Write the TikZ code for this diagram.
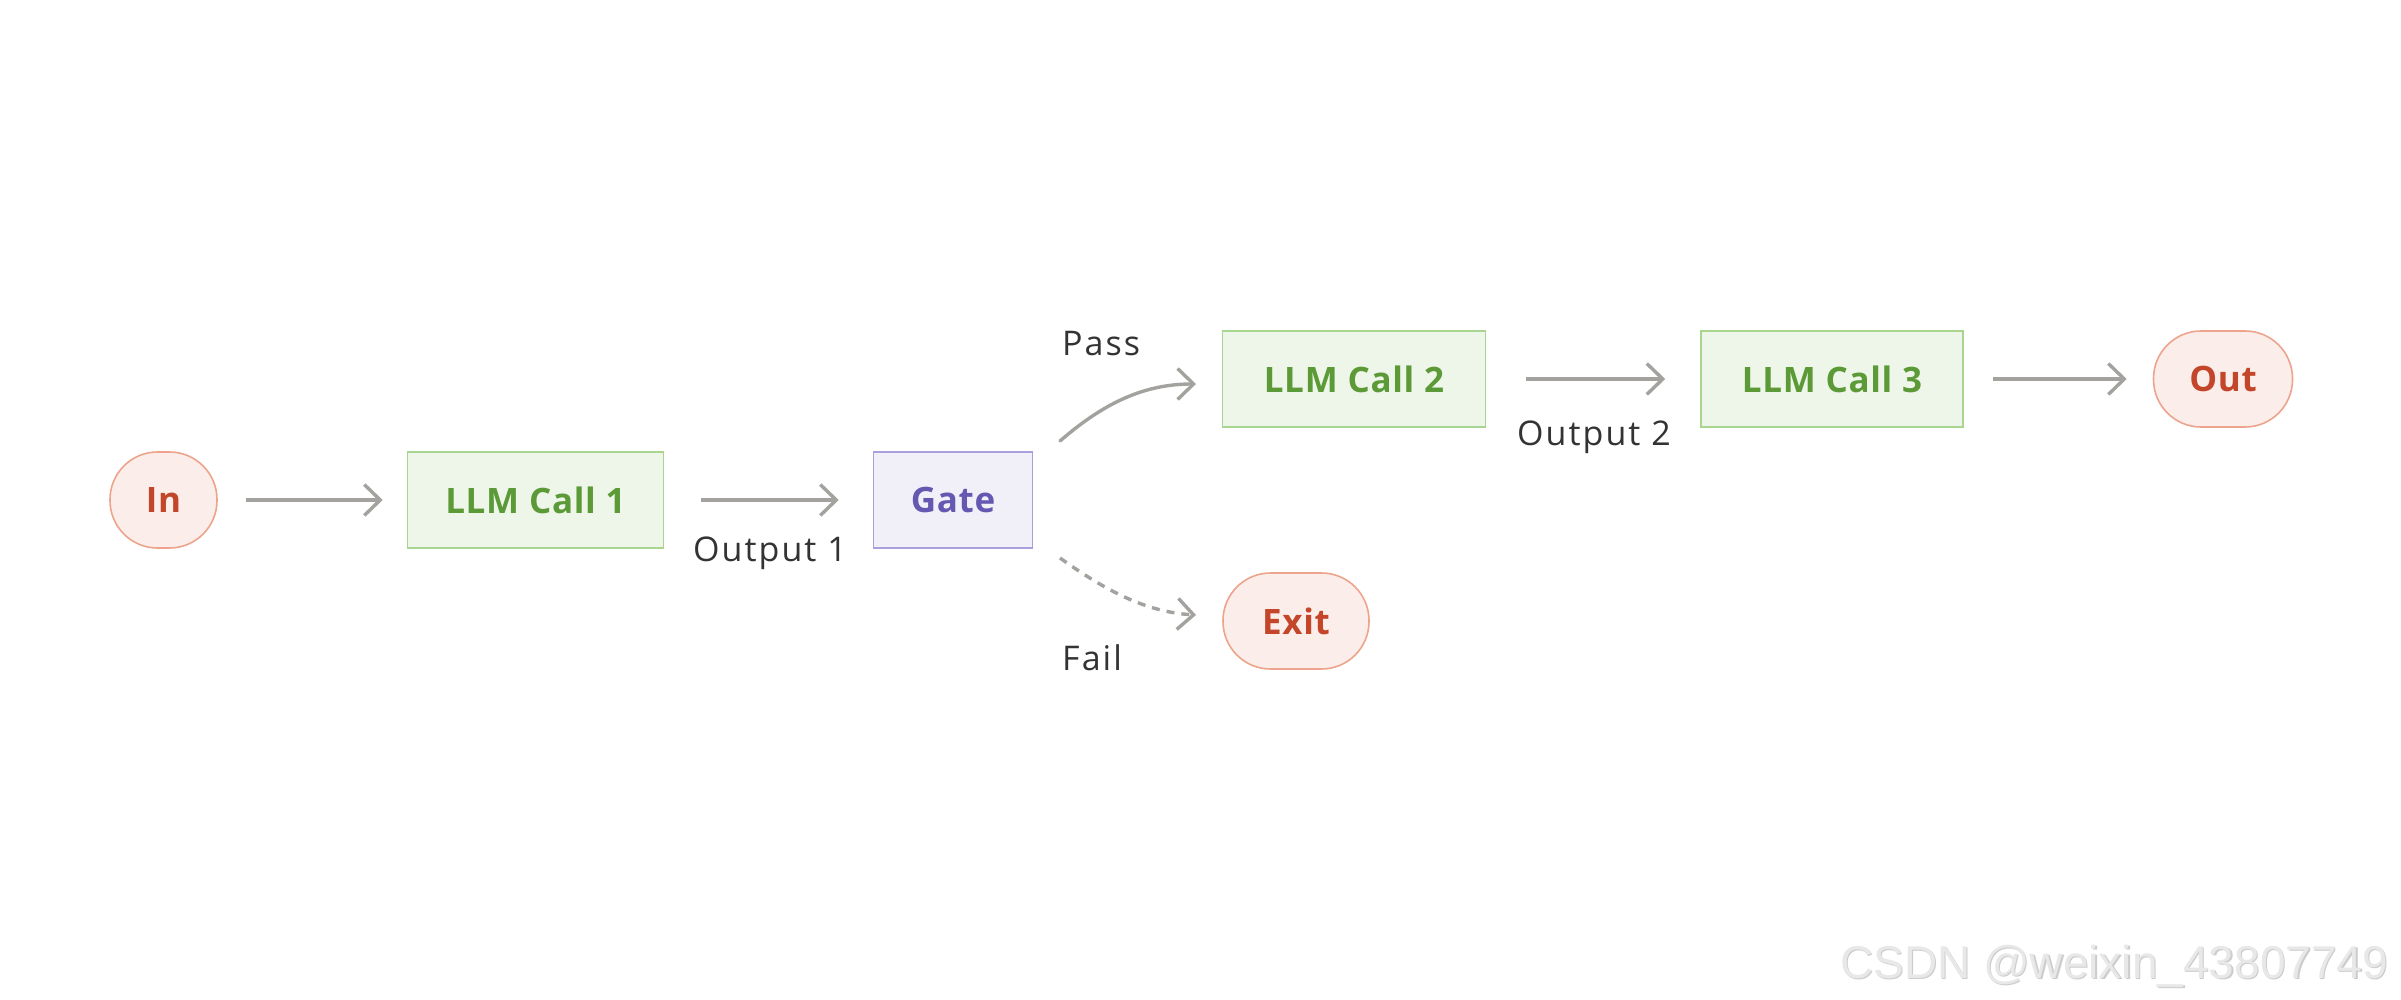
\documentclass[tikz,border=0pt]{standalone}
\usepackage{fontspec}
\setmainfont{Open Sans}
\newfontfamily\wmfont{Liberation Sans}
\usetikzlibrary{arrows.meta}
\definecolor{pillfill}{HTML}{FBEEEA}
\definecolor{pilldraw}{HTML}{EDA38C}
\definecolor{pilltext}{HTML}{C4462A}
\definecolor{llmfill}{HTML}{EEF5E9}
\definecolor{llmdraw}{HTML}{A8D58F}
\definecolor{llmtext}{HTML}{5B9A37}
\definecolor{gatefill}{HTML}{F1F0F9}
\definecolor{gatedraw}{HTML}{A99FDB}
\definecolor{gatetext}{HTML}{6558B1}
\definecolor{arrowgray}{HTML}{A3A29E}
\definecolor{labeltext}{HTML}{333333}
\tikzset{
  pill/.style={draw=pilldraw, fill=pillfill, text=pilltext, line width=1.6pt,
    rounded corners=47.5pt, minimum height=96pt, inner sep=0pt,
    font=\fontsize{35}{40}\selectfont\bfseries\addfontfeature{LetterSpace=2}},
  llmbox/.style={draw=llmdraw, fill=llmfill, text=llmtext, line width=1.6pt,
    minimum height=96pt, inner sep=0pt, font=\fontsize{35}{40}\selectfont\bfseries\addfontfeature{LetterSpace=2}},
  gatebox/.style={draw=gatedraw, fill=gatefill, text=gatetext, line width=1.6pt,
    minimum height=96pt, inner sep=0pt, font=\fontsize{35}{40}\selectfont\bfseries\addfontfeature{LetterSpace=2}},
  flow/.style={draw=arrowgray, line width=3.4pt,
    -{Straight Barb[length=16pt,width=31pt]}},
  lbl/.style={text=labeltext, inner sep=0pt, font=\fontsize{34}{38}\selectfont\addfontfeature{LetterSpace=6}},
}
\begin{document}
\begin{tikzpicture}[x=1pt,y=-1pt]
\useasboundingbox (0,0) rectangle (2401,1000);
\fill[white] (0,0) rectangle (2401,1000);

\node[pill, minimum width=107pt] (in) at (163.5,500) {In};
\node[llmbox, minimum width=256pt] (llm1) at (535.5,500) {LLM Call 1};
\node[gatebox, minimum width=159pt] (gate) at (953,500) {Gate};
\node[llmbox, minimum width=263pt] (llm2) at (1354,379) {LLM Call 2};
\node[llmbox, minimum width=262pt] (llm3) at (1832,379) {LLM Call 3};
\node[pill, minimum width=139pt] (out) at (2223,379) {Out};
\node[pill, minimum width=146pt] (exit) at (1296,621) {Exit};

\coordinate (ps) at (1060,441);
\coordinate (pe) at (1196,384);
\coordinate (fs) at (1060,558);
\coordinate (fe) at (1196,615);

\draw[flow, shorten <=28pt, shorten >=24pt] (in) -- (llm1);
\draw[flow, shorten <=37pt, shorten >=34pt] (llm1) -- (gate);
\draw[flow, shorten <=40pt, shorten >=35pt] (llm2) -- (llm3);
\draw[flow, shorten <=29pt, shorten >=26pt] (llm3) -- (out);
\draw[flow, line cap=round] (ps) .. controls (1105,402) and (1145,384) .. (pe);
\draw[flow, dash pattern=on 8pt off 7pt] (fs) .. controls (1105,590) and (1145,612) .. (fe);

\node[lbl, anchor=base] (o1) at (770,561) {Output 1};
\node[lbl, anchor=base] (o2) at (1594,445) {Output 2};
\node[lbl, anchor=base west] (pass) at (1062,355) {Pass};
\node[lbl, anchor=base west] (fail) at (1062,670) {Fail};

\node[text=black!20, anchor=base west, inner sep=0pt, font=\fontsize{46}{50}\wmfont] (wms) at (1841.5,979.5) {CSDN @weixin\_43807749};
\node[text=black!9, anchor=base west, inner sep=0pt, font=\fontsize{46}{50}\wmfont] (wm) at (1840,978) {CSDN @weixin\_43807749};
\end{tikzpicture}
\end{document}
